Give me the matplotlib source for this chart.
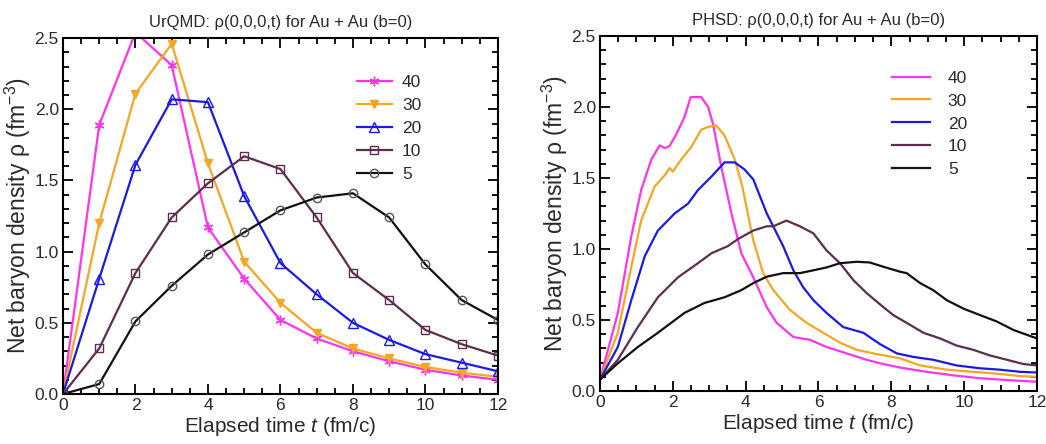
import matplotlib
matplotlib.use("Agg")
import matplotlib.pyplot as plt
from matplotlib.ticker import MultipleLocator

plt.rcParams['font.family'] = ['Liberation Sans', 'DejaVu Sans']
plt.rcParams['mathtext.fontset'] = 'custom'
plt.rcParams['mathtext.rm'] = 'Liberation Sans'
plt.rcParams['mathtext.it'] = 'Liberation Sans:italic'

energies = ["40", "30", "20", "10", "5"]
colors = ["#ff33ee", "#f5a623", "#1a1ae6", "#5c2d4e", "#111111"]

# UrQMD (left panel), t = 0..12 fm/c
t_urqmd = [0, 1, 2, 3, 4, 5, 6, 7, 8, 9, 10, 11, 12]
urqmd_40 = [0.0, 1.89, 2.54, 2.31, 1.17, 0.81, 0.52, 0.39, 0.30, 0.23, 0.17, 0.13, 0.10]
urqmd_30 = [0.0, 1.20, 2.11, 2.46, 1.62, 0.93, 0.64, 0.43, 0.32, 0.25, 0.19, 0.15, 0.12]
urqmd_20 = [0.0, 0.81, 1.61, 2.07, 2.05, 1.39, 0.92, 0.70, 0.50, 0.38, 0.28, 0.22, 0.16]
urqmd_10 = [0.0, 0.32, 0.85, 1.24, 1.48, 1.67, 1.58, 1.24, 0.85, 0.66, 0.45, 0.35, 0.27]
urqmd_5 = [0.0, 0.07, 0.51, 0.76, 0.98, 1.135, 1.29, 1.38, 1.41, 1.24, 0.91, 0.66, 0.52]

# PHSD (right panel)
phsd_40_t = [0.0, 0.49, 0.86, 1.13, 1.41, 1.64, 1.78, 1.91, 2.10, 2.32, 2.49, 2.78, 2.97, 3.10,
             3.33, 3.61, 3.88, 4.21, 4.58, 4.85, 5.31, 5.77, 6.22, 6.77, 7.32, 7.69, 8.24,
             8.97, 9.70, 10.43, 11.17, 12.0]
phsd_40_v = [0.08, 0.55, 1.09, 1.415, 1.63, 1.73, 1.71, 1.725, 1.81, 1.93, 2.07, 2.07, 2.0, 1.885,
             1.58, 1.25, 0.97, 0.80, 0.59, 0.48, 0.38, 0.36, 0.31, 0.265, 0.22, 0.195, 0.165,
             0.135, 0.11, 0.09, 0.077, 0.065]
phsd_30_t = [0.0, 0.49, 0.86, 1.13, 1.50, 1.78, 1.91, 2.0, 2.23, 2.51, 2.78, 2.97, 3.19, 3.42,
             3.70, 3.90, 4.21, 4.48, 4.76, 5.22, 5.67, 6.13, 6.59, 7.05, 7.50, 8.24, 8.79,
             9.52, 10.25, 10.98, 11.53, 12.0]
phsd_30_v = [0.08, 0.41, 0.875, 1.20, 1.44, 1.52, 1.57, 1.545, 1.63, 1.72, 1.84, 1.86, 1.87, 1.80,
             1.63, 1.45, 1.06, 0.83, 0.71, 0.57, 0.48, 0.41, 0.34, 0.29, 0.265, 0.23, 0.18,
             0.15, 0.135, 0.12, 0.105, 0.10]
phsd_20_t = [0.0, 0.49, 0.86, 1.23, 1.59, 2.05, 2.42, 2.69, 3.06, 3.42, 3.70, 3.97, 4.21, 4.58,
             5.03, 5.31, 5.58, 5.86, 6.22, 6.68, 7.23, 7.69, 8.15, 8.60, 9.15, 9.79, 10.43,
             10.98, 11.53, 12.0]
phsd_20_v = [0.08, 0.31, 0.64, 0.95, 1.13, 1.25, 1.32, 1.415, 1.51, 1.61, 1.61, 1.56, 1.49, 1.25,
             1.02, 0.85, 0.73, 0.64, 0.55, 0.45, 0.41, 0.33, 0.265, 0.24, 0.22, 0.18, 0.16,
             0.15, 0.135, 0.13]
phsd_10_t = [0.0, 0.49, 1.04, 1.59, 2.14, 2.69, 3.06, 3.51, 3.79, 4.21, 4.58, 4.76, 5.12, 5.49,
             5.86, 6.22, 6.59, 6.96, 7.32, 7.69, 8.05, 8.42, 8.88, 9.34, 9.79, 10.25, 10.71,
             11.17, 11.62, 12.0]
phsd_10_v = [0.08, 0.22, 0.45, 0.66, 0.80, 0.90, 0.97, 1.02, 1.07, 1.13, 1.16, 1.16, 1.20, 1.16,
             1.11, 0.99, 0.90, 0.78, 0.69, 0.61, 0.535, 0.48, 0.41, 0.37, 0.32, 0.29, 0.25,
             0.22, 0.19, 0.18]
phsd_5_t = [0.0, 0.49, 1.04, 1.59, 2.32, 2.87, 3.42, 3.88, 4.21, 4.58, 5.03, 5.49, 5.86, 6.22,
            6.59, 7.05, 7.41, 7.78, 8.24, 8.42, 8.79, 9.15, 9.52, 9.98, 10.43, 10.89, 11.35, 12.0]
phsd_5_v = [0.08, 0.195, 0.31, 0.41, 0.55, 0.62, 0.66, 0.71, 0.76, 0.805, 0.83, 0.83, 0.85, 0.87,
            0.90, 0.91, 0.905, 0.875, 0.84, 0.83, 0.76, 0.71, 0.64, 0.58, 0.535, 0.49, 0.43, 0.37]

urqmd = [urqmd_40, urqmd_30, urqmd_20, urqmd_10, urqmd_5]
phsd = [(phsd_40_t, phsd_40_v), (phsd_30_t, phsd_30_v), (phsd_20_t, phsd_20_v),
        (phsd_10_t, phsd_10_v), (phsd_5_t, phsd_5_v)]

markers = [dict(marker=(6, 2, 0), markersize=7, markeredgewidth=1.0),
           dict(marker='v', markersize=6, markerfacecolor="#f5a623"),
           dict(marker='^', markersize=7, markerfacecolor='none'),
           dict(marker='s', markersize=5.5, markerfacecolor='none'),
           dict(marker='o', markersize=6, markerfacecolor='none', markeredgecolor='#555555')]

txt = '#2a2a2a'
fig = plt.figure(figsize=(10.46, 4.44), dpi=100)
axL = fig.add_axes([0.0602, 0.1126, 0.4158, 0.8016])
axR = fig.add_axes([0.5736, 0.1194, 0.4178, 0.7995])

for i, lab in enumerate(energies):
    axL.plot(t_urqmd, urqmd[i], color=colors[i], lw=1.6, label=lab, **markers[i])
    axR.plot(phsd[i][0], phsd[i][1], color=colors[i], lw=1.6, label=lab)

for ax, title in [(axL, 'UrQMD: ρ(0,0,0,t) for Au + Au (b=0)'),
                  (axR, 'PHSD: ρ(0,0,0,t) for Au + Au (b=0)')]:
    ax.set_xlim(0, 12)
    ax.set_ylim(0, 2.5)
    ax.xaxis.set_major_locator(MultipleLocator(2))
    ax.xaxis.set_minor_locator(MultipleLocator(0.5))
    ax.yaxis.set_major_locator(MultipleLocator(0.5))
    ax.yaxis.set_minor_locator(MultipleLocator(0.1))
    ax.set_yticks([0, 0.5, 1.0, 1.5, 2.0, 2.5])
    ax.set_yticklabels(['0.0', '0.5', '1.0', '1.5', '2.0', '2.5'])
    ax.tick_params(which='both', direction='in', top=True, right=True, colors='black',
                   labelcolor=txt, labelsize=12.5, width=1.3, pad=3)
    ax.tick_params(which='major', length=7)
    ax.tick_params(which='minor', length=4)
    for s in ax.spines.values():
        s.set_linewidth(1.5)
    ax.set_title(title, fontsize=12, color=txt, pad=8)
    ax.set_xlabel('Elapsed time $t$ (fm/c)', fontsize=15, color=txt, labelpad=1)
    ax.set_ylabel('Net baryon density ρ (fm$^{-3}$)', fontsize=16.5, color=txt, labelpad=1)

legL = axL.legend(loc='upper left', bbox_to_anchor=(0.64, 0.94), frameon=False, fontsize=12.5,
                  handlelength=2.0, labelspacing=0.45, handletextpad=0.6, labelcolor=txt)
legR = axR.legend(loc='upper left', bbox_to_anchor=(0.633, 0.947), frameon=False, fontsize=12.5,
                  handlelength=2.2, labelspacing=0.45, handletextpad=1.0, labelcolor=txt)

fig.savefig('out.png', dpi=100)
